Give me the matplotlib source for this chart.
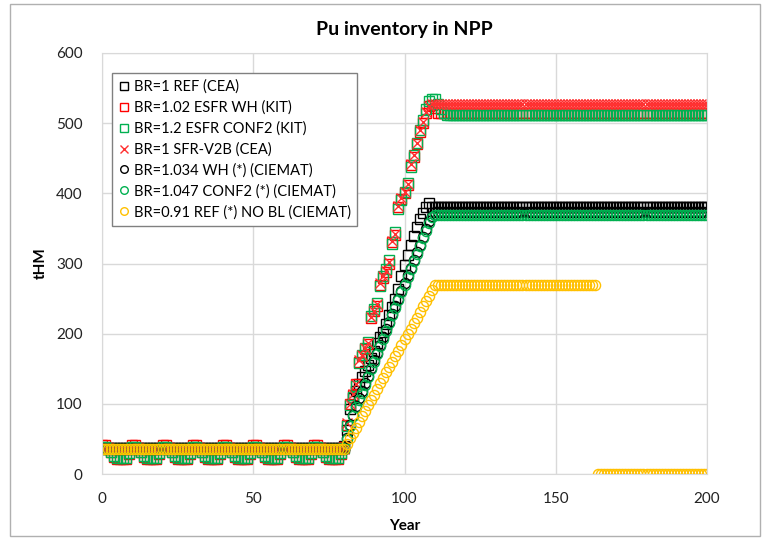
import matplotlib
matplotlib.use("Agg")
import matplotlib.pyplot as plt
from matplotlib.patches import Rectangle

plt.rcParams['font.family'] = ['Lato', 'DejaVu Sans']

years = list(range(0, 201))

# BR=1 REF (CEA) - black squares
ref_cea = ([37] * 80 + [40]
           + [62, 92, 108, 119, 128, 138, 147, 156, 166, 176, 186, 195, 203, 214,
              226, 238, 250, 264, 282, 298, 312, 326, 339, 352, 363, 372, 380, 386]
           + [381] * 92)

# BR=1.02 ESFR WH (KIT) - red squares
esfr_wh = ([41, 41, 37, 31, 24, 21, 21, 21, 21, 29,
            41, 41, 37, 31, 24, 21, 21, 21, 21, 29,
            41, 41, 37, 31, 24, 21, 21, 21, 21, 29,
            41, 41, 37, 31, 24, 21, 21, 21, 21, 29,
            41, 41, 37, 31, 24, 21, 21, 21, 21, 29,
            41, 41, 37, 31, 24, 21, 21, 21, 21, 29,
            41, 41, 37, 31, 24, 21, 21, 21, 21, 29,
            41, 41, 37, 31, 24, 21, 21, 21, 21, 29, 38]
           + [70, 100, 112, 128, 160, 168, 178, 185, 222, 232, 240, 270, 280, 288,
              300, 330, 340, 380, 392, 400, 412, 440, 452, 470, 488, 500, 515, 524,
              526, 522]
           + [515] * 90)

# BR=1.2 ESFR CONF2 (KIT) - green squares
esfr_conf2 = ([39, 39, 36, 31, 26, 23, 23, 23, 23, 30,
               39, 39, 36, 31, 26, 23, 23, 23, 23, 30,
               39, 39, 36, 31, 26, 23, 23, 23, 23, 30,
               39, 39, 36, 31, 26, 23, 23, 23, 23, 30,
               39, 39, 36, 31, 26, 23, 23, 23, 23, 30,
               39, 39, 36, 31, 26, 23, 23, 23, 23, 30,
               39, 39, 36, 31, 26, 23, 23, 23, 23, 30,
               39, 39, 36, 31, 26, 23, 23, 23, 23, 30, 37]
              + [68, 98, 110, 126, 158, 170, 180, 188, 225, 235, 244, 268, 282, 292,
                 305, 328, 345, 378, 390, 402, 415, 438, 455, 472, 490, 505, 520, 532,
                 535, 534, 528, 520, 514]
              + [511] * 87)

# BR=1 SFR-V2B (CEA) - red crosses
sfr_v2b = ([35] * 81
           + [72, 100, 114, 128, 162, 170, 180, 186, 224, 232, 242, 272, 282, 290,
              302, 332, 342, 382, 394, 402, 414, 442, 454, 472, 490, 502, 516, 525,
              528, 528]
           + [528] * 90)

# BR=1.034 WH (*) (CIEMAT) - black circles
wh_ciemat = ([36] * 81
             + [52, 70, 84, 97, 108, 118, 129, 140, 151, 162, 173, 184, 195, 206,
                217, 228, 239, 250, 261, 272, 283, 294, 305, 316, 327, 338, 349, 360,
                368, 373]
             + [373] * 90)

# BR=1.047 CONF2 (*) (CIEMAT) - green circles
conf2_ciemat = ([35] * 81
                + [50, 68, 82, 95, 106, 116, 127, 138, 149, 160, 171, 182, 193, 204,
                   215, 226, 237, 248, 259, 270, 281, 292, 303, 314, 325, 336, 347, 358,
                   366, 369]
                + [369] * 90)

# BR=0.91 REF (*) NO BL (CIEMAT) - yellow circles
ref_nobl = ([35] * 81
            + [43, 51, 59, 66, 74, 82, 90, 98, 106, 113, 121, 129, 137, 145, 153,
               160, 168, 176, 184, 192, 200, 207, 215, 223, 231, 239, 247, 254, 262, 270]
            + [270] * 53
            + [0] * 37)

series = [
    ("BR=1 REF (CEA)", ref_cea, 's', '#000000'),
    ("BR=1.02 ESFR WH (KIT)", esfr_wh, 's', '#ff0000'),
    ("BR=1.2 ESFR CONF2 (KIT)", esfr_conf2, 's', '#00b050'),
    ("BR=1 SFR-V2B (CEA)", sfr_v2b, 'x', '#ff3030'),
    ("BR=1.034 WH (*) (CIEMAT)", wh_ciemat, 'o', '#000000'),
    ("BR=1.047 CONF2 (*) (CIEMAT)", conf2_ciemat, 'o', '#00b050'),
    ("BR=0.91 REF (*) NO BL (CIEMAT)", ref_nobl, 'o', '#ffc000'),
]

x_ticks = [0, 50, 100, 150, 200]
y_ticks = [0, 100, 200, 300, 400, 500, 600]

fig = plt.figure(figsize=(7.68, 5.38), dpi=100)
ax = fig.add_axes([102 / 768, 1 - 474 / 538, 605 / 768, 421 / 538])

for label, vals, mk, col in series:
    ax.plot(years, vals, linestyle='none', marker=mk, markersize=7.3,
            markerfacecolor='none', markeredgecolor=col, markeredgewidth=1.0,
            label=label)

ax.set_xlim(0, 200)
ax.set_ylim(0, 600)
ax.set_xticks(x_ticks)
ax.set_yticks(y_ticks)
ax.grid(True, color='#d9d9d9', linewidth=1.0)
ax.set_axisbelow(True)
for s in ax.spines.values():
    s.set_color('#d9d9d9')
ax.tick_params(axis='x', length=0, labelsize=11, pad=13)
ax.tick_params(axis='y', length=0, labelsize=11, pad=14)
for lab in ax.get_xticklabels() + ax.get_yticklabels():
    lab.set_color('#222222')

ax.set_title("Pu inventory in NPP", fontsize=14, fontweight='bold', pad=13)
ax.set_xlabel("Year", fontsize=11, fontweight='bold', labelpad=9)
ax.set_ylabel("tHM", fontsize=11, fontweight='bold', labelpad=6)

leg = ax.legend(loc='upper left', bbox_to_anchor=(0.0165, 0.9525), borderaxespad=0,
                fontsize=10.5, markerscale=0.75, handlelength=0.7, handletextpad=0.35,
                labelspacing=0.45, borderpad=0.45, fancybox=False, framealpha=1,
                edgecolor='#808080')
leg.get_frame().set_linewidth(1.0)

fig.patches.append(Rectangle((9.5 / 768, 2 / 538), 750 / 768, 532 / 538,
                             transform=fig.transFigure, fill=False,
                             edgecolor='#b0b0b0', linewidth=1.0))

fig.savefig("out.png", dpi=100)
